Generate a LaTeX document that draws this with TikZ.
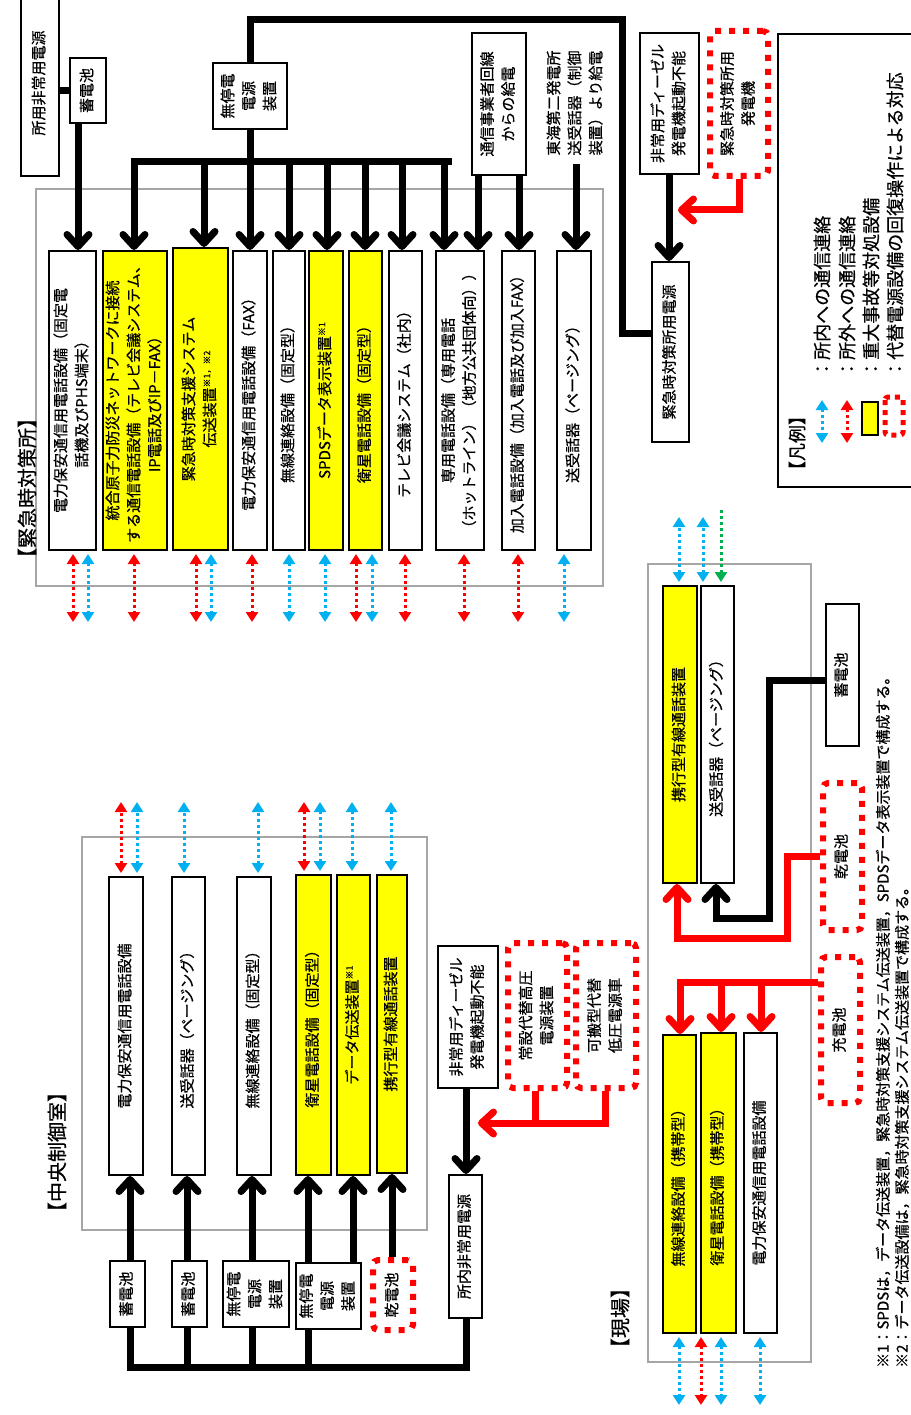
\documentclass[tikz,border=0pt]{standalone}
\usepackage{fontspec}
\setmainfont{Noto Sans CJK JP}[FakeBold=0.6]
\usepackage{graphicx}
\usetikzlibrary{arrows.meta,calc}
\definecolor{cblue}{HTML}{00B0F0}
\definecolor{cred}{HTML}{FF0000}
\definecolor{cgreen}{HTML}{00B050}
\definecolor{cyel}{HTML}{FFFF00}
\definecolor{cgray}{HTML}{A6A6A6}
\newcommand{\vt}[1]{\rotatebox{90}{\begin{tabular}{@{}c@{}}#1\end{tabular}}}
\newcommand{\sm}[1]{\raisebox{5pt}{\fontsize{9}{9}\selectfont #1}}
\newcommand{\bx}[7]{\node[#1, minimum width={(#5)*1pt-(#3)*1pt}, minimum height={(#6)*1pt-(#4)*1pt}] (#2) at ({(#3+#5)/2},{(#4+#6)/2}) {\vt{#7}};}
\tikzset{
 every node/.style={font=\fontsize{15}{21}\selectfont, inner sep=0pt},
 wbox/.style={draw=black, line width=2pt, fill=white},
 ybox/.style={draw=black, line width=2pt, fill=cyel},
 rdbox/.style={draw=cred, line width=6pt, dash pattern=on 6pt off 8pt, rounded corners=5pt, fill=white},
 plain/.style={draw=none},
 frm/.style={draw=cgray, line width=2pt},
 ttl/.style={font=\fontsize{20}{24}\selectfont},
 lg/.style={font=\fontsize{18}{20}\selectfont},
 fn/.style={font=\fontsize{15}{17}\selectfont},
 pl/.style={line width=7pt},
 pa/.style={line width=7pt, -{Straight Barb[length=12pt,width=22pt,round]}},
 ra/.style={pa, draw=cred},
 rl/.style={pl, draw=cred},
 bd/.style={line width=3pt, draw=cblue, dash pattern=on 3pt off 3pt, {Triangle[length=10pt,width=12pt]}-{Triangle[length=10pt,width=12pt]}},
 rd/.style={bd, draw=cred},
 gd/.style={line width=3pt, draw=cgreen, dash pattern=on 3pt off 3pt, -{Triangle[length=10pt,width=12pt]}},
}
\begin{document}
\begin{tikzpicture}[x=1pt,y=-1pt]
\useasboundingbox[fill=white] (0,0) rectangle (910,1415);
% frames
\draw[frm] (36,189) rectangle (603,586);
\draw[frm] (82,837) rectangle (427,1230);
\draw[frm] (648,564) rectangle (811,1362);
% titles
\node[ttl] (t1) at (27,488) {\rotatebox{90}{【緊急時対策所】}};
\node[ttl] (t2) at (57,1152) {\rotatebox{90}{【中央制御室】}};
\node[ttl] (t3) at (620,1318) {\rotatebox{90}{【現場】}};

% ===== upper section boxes
\bx{wbox}{e1}{49}{251}{96}{550}{電力保安通信用電話設備（固定電\\話機及びPHS端末）}
\bx{ybox}{e2}{103}{251}{167}{550}{統合原子力防災ネットワークに接続\\する通信電話設備（テレビ会議システム、\\IP電話及びIP－FAX）}
\bx{ybox}{e3}{173}{248}{228}{550}{緊急時対策支援システム\\伝送装置\sm{※1，※2}}
\bx{wbox}{e4}{233}{251}{267}{550}{電力保安通信用電話設備（FAX）}
\bx{wbox}{e5}{273}{251}{305}{550}{無線連絡設備（固定型）}
\bx{ybox}{e6}{309}{251}{343}{550}{SPDSデータ表示装置\sm{※1}}
\bx{ybox}{e7}{349}{251}{382}{550}{衛星電話設備（固定型）}
\bx{wbox}{e8}{389}{251}{422}{550}{テレビ会議システム（社内）}
\bx{wbox}{e9}{436}{251}{484}{550}{専用電話設備（専用電話\\（ホットライン）（地方公共団体向））}
\bx{wbox}{e10}{502}{251}{535}{550}{加入電話設備（加入電話及び加入FAX）}
\bx{wbox}{e11}{557}{251}{591}{550}{送受話器（ページング）}

% upper power sources
\bx{wbox}{s1}{21}{-10}{59}{176}{所用非常用電源}
\bx{wbox}{s2}{70}{58}{106}{123}{蓄電池}
\bx{wbox}{s3}{213}{63}{287}{129}{無停電\\電源\\装置}
\bx{wbox}{T}{472}{33}{526}{175}{通信事業者回線\\からの給電}
\node[plain, minimum width=60pt, minimum height=122pt] (tk) at (576,103) {\vt{東海第二発電所\\送受話器（制御\\装置）より給電}};
\bx{wbox}{N1}{640}{33}{699}{174}{非常用ディーゼル\\発電機起動不能}
\bx{rdbox}{G1}{710}{31}{768}{176}{緊急時対策所用\\発電機}
\bx{wbox}{EP}{652}{262}{689}{442}{緊急時対策所用電源}

% upper connectors
\draw[pl] (s2.west) -- (s2.west -| s1.east);
\draw[pa] (78,0 |- s2.south) -- (78,0 |- e1.north);
\draw[pl] (s3.north) -- (250,20) -- (622,20) -- (622,333) -- (EP.west |- 0,333);
\draw[pl, line cap=rect] (134,162) -- (448,162);
\draw[pa] (s3.south) -- (s3.south |- e4.north);
\foreach \x/\n in {134/e2,204/e3,289/e5,327/e6,365/e7,402/e8,444/e9}
  \draw[pa] (\x,162) -- (\x,0 |- \n.north);
\draw[pa] (478,0 |- T.south) -- (478,0 |- e9.north);
\draw[pa] (519,0 |- T.south) -- (519,0 |- e10.north);
\draw[pa] (tk.south) -- (tk.south |- e11.north);
\draw[pa] (669,0 |- N1.south) -- (669,0 |- EP.north);
\draw[ra] (G1.south) |- (678,210);

% upper dotted arrows
\foreach \x/\n in {73/e1,134/e2,196/e3,252/e4,356/e7,405/e8,464/e9,518/e10}
  \draw[rd, shorten <=3pt] (\x,0 |- \n.south) -- (\x,622);
\foreach \x/\n in {88/e1,211/e3,289/e5,325/e6,372/e7,564/e11}
  \draw[bd, shorten <=3pt] (\x,0 |- \n.south) -- (\x,622);

% ===== legend
\draw[line width=2.5pt] (778,34) rectangle (930,487);
\node[lg] (lt) at (797,443) {\rotatebox{90}{【凡例】}};
\draw[bd] (822,400) -- (822,443);
\draw[rd] (847,400) -- (847,443);
\draw[line width=1.5pt, fill=cyel] (862,402) rectangle (878,435);
\draw[draw=cred, line width=5pt, dash pattern=on 5pt off 5pt, rounded corners=3pt] (885,397) rectangle (903,435);
\node[lg, anchor=south] (l1) at (822,378) {\rotatebox{90}{：所内への通信連絡}};
\node[lg, anchor=south] (l2) at (847,378) {\rotatebox{90}{：所外への通信連絡}};
\node[lg, anchor=south] (l3) at (871,378) {\rotatebox{90}{：重大事故等対処設備}};
\node[lg, anchor=south] (l4) at (895,378) {\rotatebox{90}{：代替電源設備の回復操作による対応}};

% ===== central control room
\bx{wbox}{c1}{109}{877}{143}{1175}{電力保安通信用電話設備}
\bx{wbox}{c2}{172}{877}{205}{1175}{送受話器（ページング）}
\bx{wbox}{c3}{237}{877}{271}{1175}{無線連絡設備（固定型）}
\bx{ybox}{c4}{296}{875}{331}{1175}{衛星電話設備（固定型）}
\bx{ybox}{c5}{337}{875}{370}{1175}{データ伝送装置\sm{※1}}
\bx{ybox}{c6}{377}{875}{407}{1173}{携行型有線通話装置}
\bx{wbox}{p1}{110}{1261}{145}{1327}{蓄電池}
\bx{wbox}{p2}{172}{1261}{207}{1327}{蓄電池}
\bx{wbox}{p3}{223}{1261}{289}{1327}{無停電\\電源\\装置}
\bx{wbox}{p4}{296}{1263}{361}{1329}{無停電\\電源\\装置}
\bx{rdbox}{p5}{373}{1260}{413}{1330}{乾電池}
\bx{wbox}{SN}{449}{1175}{482}{1318}{所内非常用電源}
\bx{wbox}{N2}{438}{946}{498}{1088}{非常用ディーゼル\\発電機起動不能}
\bx{rdbox}{G2}{508}{943}{567}{1088}{常設代替高圧\\電源装置}
\bx{rdbox}{G3}{576}{943}{636}{1088}{可搬型代替\\低圧電源車}

\foreach \x/\n in {121/c1,304/c4}
  \draw[rd, shorten <=3pt] (\x,0 |- \n.north) -- (\x,802);
\foreach \x/\n in {137/c1,184/c2,258/c3,320/c4,352/c5,391/c6}
  \draw[bd, shorten <=3pt] (\x,0 |- \n.north) -- (\x,802);

\draw[pl] (130,0 |- p1.south) |- (466,1367) -- (466,0 |- SN.south);
\foreach \x/\n in {187/p2,252/p3,308/p4}
  \draw[pl] (\x,0 |- \n.south) -- (\x,1367);
\draw[pa] (130,0 |- p1.north) -- (130,0 |- c1.south);
\draw[pa] (187,0 |- p2.north) -- (187,0 |- c2.south);
\draw[pa] (252,0 |- p3.north) -- (252,0 |- c3.south);
\draw[pa] (308,0 |- p4.north) -- (308,0 |- c4.south);
\draw[pa] (353,0 |- p4.north) -- (353,0 |- c5.south);
\draw[pa] (392,0 |- p5.north) -- (392,0 |- c6.south);
\draw[pa] (466,0 |- N2.south) -- (466,0 |- SN.north);
\draw[rl] (535,0 |- G2.south) -- (535,1123);
\draw[ra] (605,0 |- G3.south) |- (478,1123);

% ===== field
\bx{ybox}{f1}{663}{586}{697}{883}{携行型有線通話装置}
\bx{wbox}{f2}{701}{586}{734}{883}{送受話器（ページング）}
\bx{wbox}{fb}{826}{604}{859}{746}{蓄電池}
\bx{rdbox}{fd}{823}{783}{862}{930}{乾電池}
\bx{ybox}{g1}{663}{1035}{696}{1333}{無線連絡設備（携帯型）}
\bx{ybox}{g2}{701}{1033}{736}{1333}{衛星電話設備（携帯型）}
\bx{wbox}{g3}{744}{1033}{777}{1333}{電力保安通信用電話設備}
\bx{rdbox}{fc}{821}{957}{860}{1103}{充電池}

\draw[bd, shorten <=3pt] (679,0 |- f1.north) -- (679,517);
\draw[bd, shorten <=3pt] (703,0 |- f2.north) -- (703,517);
\draw[gd, shorten >=3pt] (721,510) -- (721,0 |- f2.north);
\draw[pa] (fb.west |- 0,680) -| (769,918) -| (716,0 |- f2.south);
\draw[ra] (fd.west |- 0,856) -| (787,938) -| (677,0 |- f1.south);
\draw[rl] (fc.west |- 0,982) -- (676.5,982);
\draw[ra] (680,982) -- (680,0 |- g1.north);
\draw[ra] (721,982) -- (721,0 |- g2.north);
\draw[ra] (761,982) -- (761,0 |- g3.north);
\draw[bd, shorten <=3pt] (679,0 |- g1.south) -- (679,1405);
\draw[rd, shorten <=3pt] (701,0 |- g2.south) -- (701,1405);
\draw[bd, shorten <=3pt] (721,0 |- g2.south) -- (721,1405);
\draw[bd, shorten <=3pt] (760,0 |- g3.south) -- (760,1405);

% footnotes
\node[fn, anchor=south] (n1) at (883,1368) {\rotatebox{90}{※1：SPDSは，データ伝送装置，緊急時対策支援システム伝送装置，SPDSデータ表示装置で構成する。}};
\node[fn, anchor=south] (n2) at (902,1368) {\rotatebox{90}{※2：データ伝送設備は，緊急時対策支援システム伝送装置で構成する。}};
\end{tikzpicture}
\end{document}
